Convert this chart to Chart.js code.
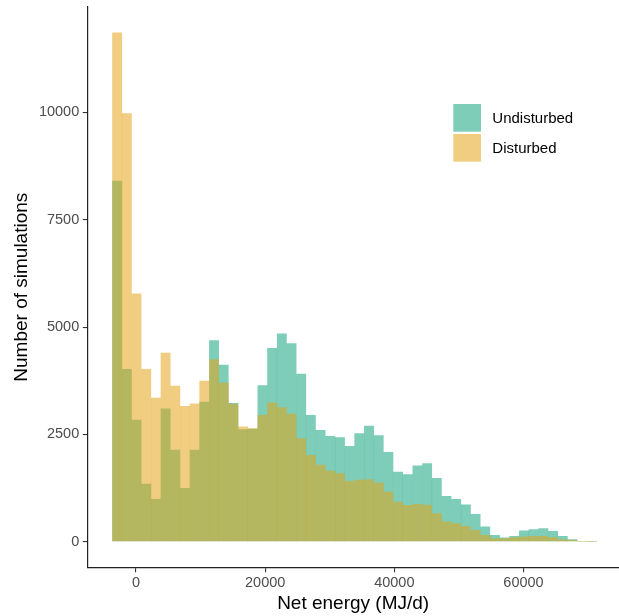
<!DOCTYPE html>
<html>
<head>
<meta charset="utf-8">
<script src="https://cdn.jsdelivr.net/npm/chart.js@4.4.1/dist/chart.umd.min.js"></script>
<style>
html,body{margin:0;padding:0;background:#fff;overflow:hidden}
#wrap{width:619px;height:616px;position:relative}
</style>
</head>
<body>
<div id="wrap"><canvas id="c" width="619" height="616"></canvas></div>
<script>
// Bin centres of the histogram (MJ/d)
const binCenters = [-2920, -1420, 80, 1580, 3080, 4580, 6080, 7580, 9080, 10580,
  12080, 13580, 15080, 16580, 18080, 19580, 21080, 22580, 24080, 25580,
  27080, 28580, 30080, 31580, 33080, 34580, 36080, 37580, 39080, 40580,
  42080, 43580, 45080, 46580, 48080, 49580, 51080, 52580, 54080, 55580,
  57080, 58580, 60080, 61580, 63080, 64580, 66080, 67580, 69080, 70580];

// Counts per bin
const undisturbed = [8410, 4020, 2840, 1350, 995, 3100, 2140, 1250, 2140, 3260,
  4690, 4120, 3230, 2620, 2630, 3640, 4510, 4850, 4620, 3910,
  2950, 2600, 2460, 2430, 2230, 2525, 2700, 2480, 2090, 1630,
  1570, 1770, 1826, 1480, 1060, 995, 862, 645, 350, 156,
  93, 132, 256, 288, 312, 249, 132, 55, 15, 8];

const disturbed = [11860, 9980, 5780, 4020, 3350, 4400, 3630, 3160, 3220, 3750,
  4250, 3700, 3210, 2680, 2640, 2950, 3240, 3130, 2980, 2410,
  2020, 1790, 1655, 1590, 1410, 1440, 1450, 1375, 1165, 930,
  855, 875, 860, 661, 470, 430, 366, 272, 156, 78,
  78, 100, 117, 133, 133, 102, 55, 35, 8, 4];

const seriesNames = ['Undisturbed', 'Disturbed'];
const xTicks = [0, 20000, 40000, 60000];
const yTicks = [0, 2500, 5000, 7500, 10000];
const xTitle = 'Net energy (MJ/d)';
const yTitle = 'Number of simulations';

const FONT = '"Liberation Sans", Arial, Helvetica, sans-serif';
const TEAL = 'rgba(20,164,128,0.55)';
const GOLD = 'rgba(228,164,24,0.55)';

function toPoints(vals) { return binCenters.map((x, i) => ({x: x, y: vals[i]})); }

const legendPlugin = {
  id: 'insideLegend',
  afterDraw(chart) {
    const ctx = chart.ctx;
    ctx.save();
    const keyX = 453.3, keyW = 27.7, keyH = 27.7;
    const keyY = [104, 134];
    chart.data.datasets.forEach((ds, i) => {
      ctx.fillStyle = '#ffffff';
      ctx.fillRect(keyX, keyY[i], keyW, keyH);
      ctx.fillStyle = ds.backgroundColor;
      ctx.fillRect(keyX, keyY[i], keyW, keyH);
      ctx.fillStyle = '#000000';
      ctx.font = '15px ' + FONT;
      ctx.textAlign = 'left';
      ctx.textBaseline = 'middle';
      ctx.fillText(ds.label, 492.3, keyY[i] + keyH / 2 + 1.4);
    });
    ctx.restore();
  }
};

new Chart(document.getElementById('c'), {
  type: 'bar',
  data: {
    datasets: [
      {label: seriesNames[0], data: toPoints(undisturbed), backgroundColor: TEAL, order: 2},
      {label: seriesNames[1], data: toPoints(disturbed), backgroundColor: GOLD, order: 1}
    ]
  },
  options: {
    responsive: false,
    animation: false,
    devicePixelRatio: 1,
    layout: {padding: {top: 6.7, right: 0, bottom: 0, left: 0}},
    datasets: {
      bar: {
        grouped: false,
        barPercentage: 1,
        categoryPercentage: 1,
        borderWidth: 0,
        inflateAmount: 0.1
      }
    },
    plugins: {
      legend: {display: false},
      tooltip: {enabled: false}
    },
    scales: {
      x: {
        type: 'linear',
        offset: false,
        min: -7541,
        max: 74791,
        afterBuildTicks: s => { s.ticks = xTicks.map(v => ({value: v})); },
        afterFit: s => { s.height = 48.3; s.paddingLeft = 0; s.paddingRight = 0; },
        grid: {offset: false, drawOnChartArea: false, drawTicks: true, tickLength: 4.5, color: '#333333', lineWidth: 1.1},
        border: {display: true, color: '#222222', width: 1.2},
        ticks: {
          font: {family: FONT, size: 14.5},
          color: '#4d4d4d',
          padding: 2,
          maxRotation: 0,
          autoSkip: false,
          callback: v => String(v)
        },
        title: {
          display: true,
          text: xTitle,
          font: {family: FONT, size: 19},
          color: '#000000',
          padding: {top: 0, bottom: 1}
        }
      },
      y: {
        type: 'linear',
        min: -606,
        max: 12465,
        afterBuildTicks: s => { s.ticks = yTicks.map(v => ({value: v})); },
        afterFit: s => { s.width = 87.3; s.paddingTop = 0; s.paddingBottom = 0; },
        grid: {offset: false, drawOnChartArea: false, drawTicks: true, tickLength: 4.5, color: '#333333', lineWidth: 1.1},
        border: {display: true, color: '#222222', width: 1.2},
        ticks: {
          font: {family: FONT, size: 14.5},
          color: '#4d4d4d',
          padding: 3.6,
          autoSkip: false,
          callback: v => String(v)
        },
        title: {
          display: true,
          text: yTitle,
          font: {family: FONT, size: 19},
          color: '#000000',
          padding: {top: 10.4, bottom: 0}
        }
      }
    }
  },
  plugins: [legendPlugin]
});
</script>
</body>
</html>
